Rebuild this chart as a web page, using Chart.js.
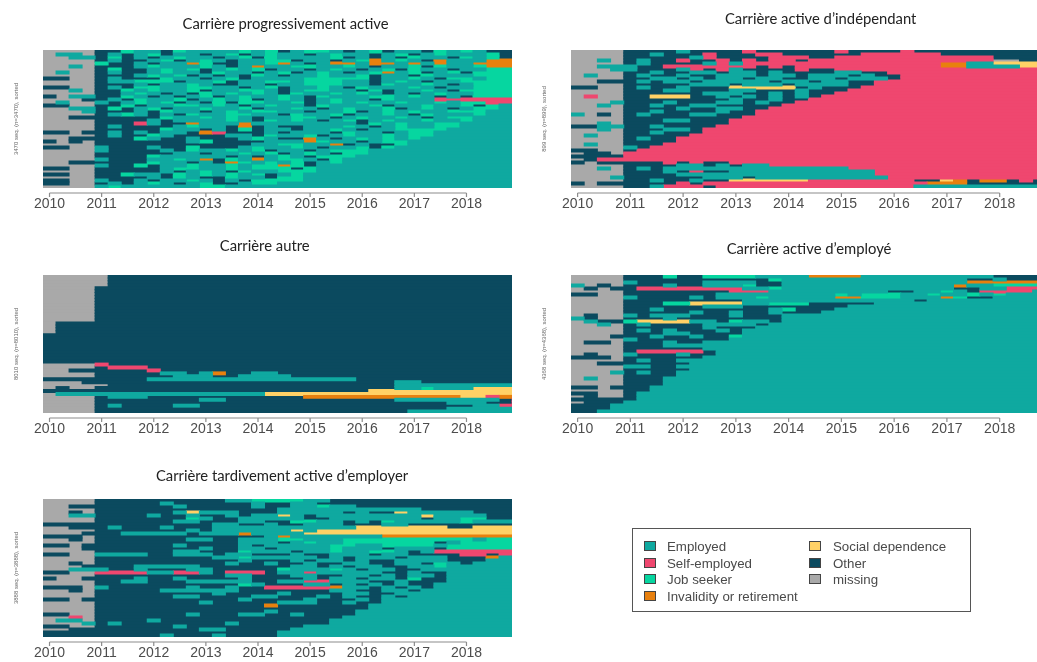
<!DOCTYPE html>
<html lang="fr"><head><meta charset="utf-8">
<script src="https://cdn.jsdelivr.net/npm/chart.js@4/dist/chart.umd.min.js"></script>
<style>
html,body{margin:0;padding:0;background:#fff;width:1037px;height:662px;overflow:hidden}
#page{position:absolute;left:0;top:0;width:1037px;height:662px;filter:blur(0.55px)}
canvas{position:absolute;display:block}
.ttl{position:absolute;transform:translate(-50%,-50%);font:14.8px Lato,sans-serif;color:#222;white-space:nowrap}
#legend{position:absolute;left:632px;top:528px;width:339px;height:84px;box-sizing:border-box;border:1px solid #555;background:#fff}
.lg{position:absolute;font:13.3px "Liberation Sans",Arial,sans-serif;color:#4a4a4a;white-space:nowrap;line-height:16px}
.sw{position:absolute;width:10px;height:8px;border:1px solid #444;box-sizing:content-box}
</style></head><body><div id="page"></div>
<script>
const stateKeys   = ['E','S','J','I','D','O','m'];
const stateNames  = ['Employed','Self-employed','Job seeker','Invalidity or retirement','Social dependence','Other','missing'];
const stateColors = ['#0fa9a0','#ef476f','#06d6a0','#e8800e','#ffd166','#0b4a5f','#a9a9a9'];
const yearLabels  = [2010,2011,2012,2013,2014,2015,2016,2017,2018];
const columnCount = 36;

// Each row reads left to right, one letter per quarter; the last letter holds to the end of the row.
const rowsProgressive = [
"mmmm OOJE EOJE EEEJ EJOE JJEO EJOE EOJE JEOO",
"mEEm OEOE JOEE OEJO EJEE OEJE EOEJ OEJE EEJO",
"mmEE OJOE OEJE EOEJ OJEE EEJO EOEO JEEO JEJO",
"mmmm OEOO EJOE JEOE EJJO EEOE JIEJ EOIE EEII",
"mmmm JOOE OEEI JOOE EJIE OEII EIIE IEIE EIII",
"mmEm OOOE JEEE JEOE IEEJ JEEJ EOEE JOJE EJII",
"mmmm OJOO EJEJ OEJE JOEE OEJE OEJO JEEO EEJJ",
"mEmm OEOO EJEE OJEE OEJO EJEO EJIE JOEJ OJJJ",
"mmmm OOOE JEJO EOEO JEOE EJEE JOEE OJEE EJJJ",
"OOmm OEOO OJEE OEJO EEEE JJJJ JOEE JEOJ JEJJ",
"mmmm OEEJ JJOE EJOE EJJE JJJE EOEJ EOEE JJJJ",
"mmmm OOOE OEEJ EOOE EOEE JJJE EOJE EJEO EJJJ",
"OOmm OEOJ JEEJ JEEO EJOE EJEO JEEE JEOE EJJJ",
"mmEm OOJE JEEJ OEEJ JEOE JJEE OJOE EJEO JJJJ",
"mmmm OOEJ EOEO JEJE JEOJ EEJE JEOE OEJE EJJJ",
"OmEE OOJE OEOE JOEJ EEJE OJEE EJJE JEOE OJJJ",
"mmmO OEOJ EEJO EJEJ OEJE OEJE EOJE EESS SSSS",
"mEmm EOEJ EJOE OJOJ JEEJ OEJE JEEJ EEJE JJSS",
"OOmm OOJO EEJJ EJEO EJEE OJEE EJOE EJEE JOJE",
"mmEE OJOE JOEE JEEJ OEEJ EOEJ EEJO EJEO EJJE",
"mmmE OOOE OJEE OEJE JJEE OEEJ OEJE JEEJ JJE",
"mmmm OEJE OEOJ EEJJ EEOJ EEJO EEJE OJEE EJE",
"mmOO OOOO OJEE JEJE OEEJ JEOE JEEJ EOEJ JE",
"mmmm OOOO EOEE EEJE OJEJ EOEJ OEJE EJEE JE",
"mmmm OOOS EOOI EEEI EEEE EEEE OJEJ EEJJ E",
"mmmm OEOO OOEJ EEOI OEOO EEEJ EOEJ EEJJ E",
"mmmm OOOO OJEE OEOJ OEEO EEJE OEEJ JJJE",
"OOmO OEOE OEEO ISOO OEOE EEOJ EEOE JJE",
"mmmm OEOO JEOO OOEE OJEE JOEJ EEJE JJE",
"mmOO OOOJ EOOE OOOE JEOO IEOE JEJE JE",
"OmOm OOOO OOOE JOOO OEEE IJEE OEJJ E",
"mmmm OOOO OOOO OOOO EEJJ EEIO EOOJ E",
"OOmm EOOO EOOJ OOOE JEEJ EOEE JOJE",
"mmmm EOOO OEOJ EEJE JOEE OEJJ JE",
"mmmm OOOO OOEE OEEJ EJOE JEOJ JE",
"mmmm OOOO JEEE EEOE OEJE OJJJ E",
"mmmm EOOO EEJE IOJE IEJJ EOJE",
"mmOO OOOO JEEO EOIJ EJEJ OEJE",
"mmmm EOOJ OEEJ EEJE JJIJ OEE",
"OOmm OOOO OEJJ EEJE JJJO JE",
"mmmm OOOO OEOE JEOJ EEJJ JE",
"OOmm OOJE EOJE JEJE JOEJ E",
"mmmm OOOO EOJE OOJE EOJJ E",
"OOmm EOOE OEEJ EOEO JJJJ E",
"OOmm OEOE JEOE JOOE JJE",
"mmmm EJEE EEEE JJE"
];
const rowsIndependent = [
"mmmm OOOO EOOO OSOO OOOO SOOO OSOO OOOO OOOO",
"mmmm OOEO OOSO OOSS OOOO OOSS SSSS OOOO OOOO",
"mmmm OOOO OESO OOOS SSOO SSSS SSSS SSSS OOOO",
"mmEm OEOO SOOS OSOS SOSS SSSS SSSS SSSS mmOO",
"mmmm OEOO OOES ESSS SSSS SSSS SSSS IIEE DDDD",
"mmEE EOOS SSSS SSOS OSSS SSSS SSSS IIEE EEDD",
"mmmE EOOO ESOS EOOO OSOO SSSS SSSS SSSS SSSS",
"mmmm OOEO OEEO EEOE OOOO EEOO S",
"mEmm OEOO EOOE EEOE EOEE EOEO OS",
"mmmm OOEE OEOE EOEE OOEE OEEE OS",
"mmOO OEOE EOEE EEEO EEOE EOOS",
"mmmm OOOO OEEE OEEE OEEE EOOS",
"OOmm OEOO EOOO DDDD DOEO OOS",
"mmmm OOOE EOOO EEOO OEOO OS",
"mmmm OOOO OOEE EOOE OEOO S",
"mSmm OODD DOOE OEOE OEOS",
"mmmm OOOO OOOO EOOE OOS",
"mmmE OOOE OOOE EOEO OS",
"mmEm OOEO OEEO OOOO S",
"mmmm OOOO EOOE EOOS",
"mmmm OOEO OOOE OOS",
"EmOm OEOO OEEO OOS",
"mmmm OOOO OOOO OS",
"mmmm OOOE EOOO S",
"mmEm OOOO OOOO S",
"OOEE OOEO OOOS",
"mmEm OOOE EOS",
"mmmm OOEO OOS",
"mEmm OOOO OS",
"mmmm OEOO S",
"mmmm OOOO S",
"mEmm OOOS",
"mmmm EOS",
"OOmm OS",
"mOOm S",
"OOOO S",
"mOSS S",
"OmOO OOOS OSOO S",
"mmmm OOOO EEOE OEES",
"mmEm OEOE EEEE EEEE EEEE ES",
"mmmm OOOE OSOO EEEE EEEE EEES",
"mmmm OOOO EEEE EEEE EEEE EEES",
"mmmE OOOO OOEE EOEE EEEE EEEE S",
"mmmm OOEO OEOO DDDD DDSS SSSS SSOO DIOI IOSO E",
"OmOO OOOO SOSS SSSS SSSS SSSS SSSI IIOO OOOO E",
"mmmm OOES SSOS SSSS SSSS SSSS SSEE EEEE EEEE E"
];
const rowsOther = [
"mmmm mO","mmmm mO","mmmm mO","mmmm mO","mmmm O","mmmm O","mmmm O","mmmm O","mmmm O","mmmm O",
"mmmm O","mmmm O","mmmm O","mmmm O","mmmm O","mmmm O","mO","mO","mO","mO",
"O","O","O","O","O","O","O","O","O","O",
"mmmm SOOO",
"mmmm OSSS OOOO O",
"mmOO OOOO SOOO O",
"mmmm OOOO OEEO EIOO EEOO O",
"mmmm OOOO OOEE EOOE EEEO O",
"OOOO OOOO EEEE EEEE EEEE EEEE O",
"mmmO OOOO OOOO OOOO OOOO OOOO OOOE EOOO OOOO O",
"mmmm mOOO OOOO OOOO OOOO OOOO OOOE EEEE EEEE EOO",
"mOmm OOOO OOOO OOOO OOOO OOOO OOOE EJEE EDDD D",
"OOOO OOOO OOOO OOOO OOOO OOOO ODDD DDDD DDDD D",
"mEEE EEEE EEEE EEEE EDDD DDDD DDDD DDDD DDDD D",
"mmmm OEEE OOOO OOOO OOOO IIII IIII IIII DDSI",
"mmmm OOOO OOOO EEOO OOOO OOOO OOOE EEEE EEEO SS",
"mmmm OOOO OOOO OOOO OOOO OOOO OOOO OOOE EEOO SS",
"mmmm OEOO OOEE OOOO OOOO OOOO OOOO OOOO OEES S",
"mmmm OOOO OOOO OOOO OOOO OOOO OOOO OOOE E",
"mmmm OOOO OOOO OOOO OOOO OOOO OOOO EE"
];
const rowsEmployee = [
"mmmm OOOJ OOJJ JJEE EEII IIEE EEEE EEEE OOOO",
"mmmm OOOO OOOO OOOJ EEEE EEEE EEEE EEOO EOOO",
"mmmm EOOO OOEE EEOO EEEE EEEE EEEE EEII IIII",
"EmOm OOOE OOEE EJOO EEEE EEEE EEEE EIEE JJJJ",
"mOmO OSSS SSSS SEEJ EEEE EEEE EEEE EOOE ESSS",
"mmmm OOOO OOOO SSSE EEEE EEEE OOEE JEOS SSSE",
"OOmm OOOO OOOE EEEE EEEE JEJJ JEEJ EEJE JE",
"mmmm EOOO OEOE EEJE EEEE IIJJ JEEE IJOO E",
"mmmm OOOO OOOO OEEE EEEE EEEE EEOE EE",
"mmmm OOOJ JDDD DEEJ JJOO OOOE",
"mmmm OOOO OOEE EOOO OOOO OE",
"mmmm OOEO OOOO OOOE JOOO E",
"mmmm OOOO OEOO EOOE OOOE",
"mOmm EOEE EOOO EOOO E",
"EOmm OOOE OOOO OOOO E",
"mEOO JDDD DEEO JEEO E",
"mmEm OEOO OOEE EEOE",
"mmmm OOOO OOEO OOE",
"mmmm OEOE OOOE OE",
"mmmm OOOE EOOO OE",
"mmmO OOEO OEOO JE",
"mmmm EOOO OOOO E",
"mOOm OOOE OOE",
"mmmm OOOE EEE",
"mmmm OOOO OOE",
"mmmm OSSS SSOE",
"mOmm EOOO EOO E",
"OOOm OOOO OOE",
"mmmm OEOO EE",
"mmOO OOOO OE",
"mmmm EEOO E",
"mmmm OOOO OE",
"mmmE OEOO E",
"mmmm OOOO E",
"mEmm OOOE",
"mmmm OOOE",
"mmmm OOOE",
"OOmO OOE",
"mmmm OO E",
"OOmm OE",
"mOmm OE",
"OOOO OE",
"mOOO E",
"OOOE",
"OOOE",
"OOE"
];
const rowsLateEmployer = [
"mmmm OOOO OOOO OOEE JJJJ EEOO OOOO OOOO OOOO",
"mmmm OOOO OEOO OOOO EOOE EOOO OOOO OOOO OOOO",
"mmOO OOOO OOEO OOOO EOOE EJEE OOOO OOOO OOOO",
"mmmm OOOO OOOO OOOO OOEE EEEE EEEE EOOO OOOO",
"mmOm OOOO OOED EEEO OOEE EEEO EOOD EEEE EOOO",
"mmEE OOOO EOOE OOEO EEDE OEEE EEEE EDEE EEOO",
"mmmm OOOO OOOJ EOOE EEEE OOEE EEEE EOEE JJOO",
"mmmm OOOO OOEE OOOE EOOJ JEEO EOJE EEEE JEEE",
"OOOO OOOO OOOO OEEO OEOO EEEO OOEE OOOO OOOO",
"mmOO OEOO OEOO OEEE EEEE EEEE DDDD DDDO ODDD",
"mmmm OOOO OOOE OEEE EEED EDDD DDDD DDDD DDDD",
"mmmO OOEE EEEO EEEI EEEE DDDD DDDD DDDD DDDD",
"OOOm OOOO OOOO OOOO OEIE EEEE EEII IIII IIII",
"mmOm OOOO OOOE EOOE EEJJ EEEJ JJJJ JJJJ JEJJ",
"mmmm OOOO OOOO OOOE EEOE JEEJ JJJJ JJOE JJJJ",
"OOmO OOOO OOEO OOOE OEEE EEJJ EEJJ JJEJ JJJJ",
"mmmO OOOO OOOO EOOE EOEE EEJE EEOE EEOJ JJJJ",
"mmmm OOOO OOEE OOOJ EEEO EEJE EJJE OESS SSSS",
"OOmm EEEE OOEE EOEE OOOE OOEE EOEE OOOO SSOS",
"mmmm OOOO OOOO OEEJ EEEE EOEO EEEO EEEO OOIE",
"mmmm OOOO OOOO OOOE OOOE OEEO EOOE EEEO OOE",
"mmOm OOOO OOOO OOEO OEOO EOOE EOOE EOJE OE",
"mmmO OOOE EEEE OOOO OOOE EOEO EEOO EEJE E",
"mmEE EOOE OOOE EOOO OOJE EEJE OEEO OEEE",
"OOmm SSSS EESS EOSS SOEE SEEE EEOO EOOE",
"mmmm OOOO OOOO OOEE OOOE EOOE EOEO EEOE",
"OmmO OOOE OOEO OOOE OOOO EOEE OEEO JOOE",
"mmmm OOEE OOOE EEEE OOEE SSEE EOOE OOOE",
"mmmm OOOO OOOO OOOJ EOOO EEOE OEOE OOE",
"OOOm EOOO OOOE OOEO OSSS SSIE EOEO EOE",
"mmOm OOOO OEEE EEEO OOOO OOEE OOEE OE",
"mmmm OOOO OOOO OEOO OOEO OOOE EOOE E",
"mmmm OOOO OOEE OOOO EEOO OEOE OOEO E",
"OOmO OOOO OOOO OOOE OOOO EOOO EOE",
"mmmm OOOO OOOO EOOO OOEE EOOE OOE",
"mmmm OOOO OOOO OOOO OIOO OOOO OE",
"mmmm OOOO OOOO OOOO OOOO OOOO OE",
"mmmm OOOO OOOO OOOO OEOO OOOO E",
"OOmm OOOO OOOE OOOE EOOE OOOO E",
"mmSm OOOO OOOO OOOO OOOO OOOE",
"mEEm OOOO EOOO OOOO OOOO OOE",
"mmmE OEOO OOOO OOEO OOOO OOE",
"OOmm OOOO OOEO OOOO OOOO E",
"mmOO OOOO OOOO EEOO OOOE",
"OOOO OOOO OOOO OOOO OOE",
"OOOO OOOO OEOO OEOO OOE"
];

const panelSeries = [rowsProgressive,rowsIndependent,rowsOther,rowsEmployee,rowsLateEmployer];
const panelTitles = ['Carrière progressivement active','Carrière active d’indépendant','Carrière autre','Carrière active d’employé','Carrière tardivement active d’employer'];
const panelNotes  = ['3470 seq. (n=3470), sorted','899 seq. (n=899), sorted','8010 seq. (n=8010), sorted','4368 seq. (n=4368), sorted','3888 seq. (n=3888), sorted'];

// page layout, in pixels: plot box, then centre of the title
const panelBoxes  = [
 {l:43,  t:50,  w:469, h:138, tx:285.5, ty:23,  q:13.03},
 {l:571, t:50,  w:466, h:138, tx:820.7, ty:17.5,q:13.19},
 {l:43,  t:275, w:469, h:138, tx:264.7, ty:245, q:13.03},
 {l:571, t:275, w:466, h:138, tx:809,   ty:248, q:13.19},
 {l:43,  t:499, w:469, h:138, tx:282,   ty:475, q:13.03}
];

const page = document.getElementById('page');

function buildDatasets(rows){
  return stateKeys.map((k,si)=>{
    const data=[];
    rows.forEach((raw,r)=>{
      const s=raw.replace(/ /g,'');
      let c=0;
      while(c<s.length){
        let e=c; while(e+1<s.length&&s[e+1]===s[c]) e++;
        const last = e===s.length-1;
        if(s[c]===k) data.push({x:[c-0.5, last?columnCount-0.5:e+0.5], y:r});
        c=e+1;
      }
    });
    return {label:stateNames[si],data,backgroundColor:stateColors[si],borderWidth:0,inflateAmount:0.5,grouped:false,barPercentage:1,categoryPercentage:1};
  });
}

const axisLine = {
  id:'axisLine',
  afterDraw(chart){
    const x=chart.scales.x, ctx=chart.ctx, y=chart.chartArea.bottom+5;
    ctx.save(); ctx.strokeStyle='#8c8c8c'; ctx.lineWidth=1.2; ctx.beginPath();
    ctx.moveTo(x.getPixelForValue(0),y); ctx.lineTo(x.getPixelForValue(32),y);
    yearLabels.forEach((_,i)=>{const p=x.getPixelForValue(i*4); ctx.moveTo(p,y); ctx.lineTo(p,y+4);});
    ctx.stroke(); ctx.restore();
  }
};

panelSeries.forEach((rows,i)=>{
  const b=panelBoxes[i];
  const gutter=30, foot=25;
  const cv=document.createElement('canvas');
  cv.style.left=(b.l-gutter)+'px'; cv.style.top=b.t+'px';
  cv.style.width=(b.w+gutter)+'px'; cv.style.height=(b.h+foot)+'px';
  cv.width=b.w+gutter; cv.height=b.h+foot;
  page.appendChild(cv);
  const ttl=document.createElement('div'); ttl.className='ttl';
  ttl.style.left=b.tx+'px'; ttl.style.top=b.ty+'px'; ttl.textContent=panelTitles[i];
  page.appendChild(ttl);
  new Chart(cv,{
    type:'bar',
    data:{datasets:buildDatasets(rows)},
    plugins:[axisLine],
    options:{
      indexAxis:'y',responsive:false,animation:false,
      layout:{padding:0},
      plugins:{legend:{display:false},tooltip:{enabled:false}},
      scales:{
        x:{type:'linear',min:-0.5,max:b.w/b.q-0.5,
           grid:{display:false,drawTicks:false},border:{display:false},
           afterBuildTicks(a){a.ticks=yearLabels.map((_,k)=>({value:k*4}));},
           afterFit(a){a.height=foot;},
           ticks:{autoSkip:false,maxRotation:0,padding:8,color:'#4d4d4d',
                  font:{family:'"Liberation Sans",Arial,sans-serif',size:14},
                  callback:v=>String(yearLabels[v/4])}},
        y:{type:'linear',reverse:true,offset:false,min:-0.5,max:rows.length-0.5,
           grid:{display:false,offset:false},border:{display:false},
           ticks:{display:false},
           afterFit(a){a.width=gutter;},
           title:{display:true,text:panelNotes[i],color:'#666',padding:0,
                  font:{family:'"Liberation Sans",Arial,sans-serif',size:6}}}
      }
    }
  });
});

// legend
const lg=document.createElement('div'); lg.id='legend'; page.appendChild(lg);
const legendSlots=[[0,0],[0,1],[0,2],[0,3],[1,0],[1,1],[1,2]];
stateNames.forEach((n,i)=>{
  const [c,r]=legendSlots[i];
  const sw=document.createElement('div'); sw.className='sw';
  sw.style.left=(c?176:11)+'px'; sw.style.top=(12+r*16.7)+'px'; sw.style.background=stateColors[i];
  const tx=document.createElement('div'); tx.className='lg';
  tx.style.left=(c?200:34)+'px'; tx.style.top=(10+r*16.7)+'px'; tx.textContent=n;
  lg.appendChild(sw); lg.appendChild(tx);
});
</script></body></html>
